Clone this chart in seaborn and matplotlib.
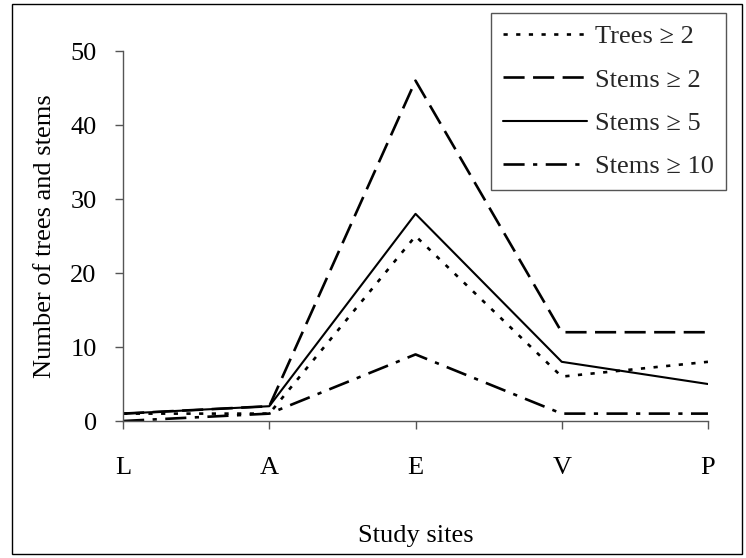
import matplotlib
matplotlib.use("Agg")
import matplotlib.pyplot as plt
from matplotlib.patches import Rectangle
import pandas as pd
import seaborn as sns

# Study sites along the transect
sites = ["L", "A", "E", "V", "P"]

# Counts per site for each size class
trees_ge2 = [1, 1, 25, 6, 8]
stems_ge2 = [1, 2, 46, 12, 12]
stems_ge5 = [1, 2, 28, 8, 5]
stems_ge10 = [0, 1, 9, 1, 1]

series_labels = ["Trees \u2265 2", "Stems \u2265 2", "Stems \u2265 5", "Stems \u2265 10"]
series_values = [trees_ge2, stems_ge2, stems_ge5, stems_ge10]

y_ticks = [0, 10, 20, 30, 40, 50]

sns.set_theme(style="white")
plt.rcParams["font.family"] = ["Liberation Serif", "DejaVu Serif"]

FS = 19

fig = plt.figure(figsize=(7.46, 5.58), dpi=100)
ax = fig.add_axes([0.165, 0.2455, 0.784, 0.663])

line_styles = {
    series_labels[0]: dict(linestyle=(0, (1.6, 3.2)), linewidth=1.9),
    series_labels[1]: dict(linestyle=(0, (8, 3.2)), linewidth=1.9),
    series_labels[2]: dict(linestyle="-", linewidth=1.5),
    series_labels[3]: dict(linestyle=(0, (8, 3.2, 1.6, 3.2)), linewidth=1.9),
}

for label, values in zip(series_labels, series_values):
    df = pd.DataFrame({"site": sites, "count": values})
    sns.lineplot(data=df, x="site", y="count", ax=ax, color="black",
                 label=label, legend=False, **line_styles[label])

ax.set_xlim(0, len(sites) - 1)
ax.set_ylim(0, 50)
ax.set_yticks(y_ticks)
ax.set_xticks(range(len(sites)))
ax.set_xticklabels(sites)

for side in ["top", "right"]:
    ax.spines[side].set_visible(False)
for side in ["left", "bottom"]:
    ax.spines[side].set_color("#555555")
    ax.spines[side].set_linewidth(1.0)

ax.tick_params(axis="both", which="major", direction="out", length=6, width=1.0,
               color="#555555", labelsize=FS, labelcolor="black",
               bottom=True, left=True)
ax.tick_params(axis="x", pad=20)
ax.tick_params(axis="y", pad=13)

ax.set_xlabel("Study sites", fontsize=FS, labelpad=33, color="black")
ax.set_ylabel("Number of trees and stems", fontsize=FS, labelpad=10, color="black")

handles = ax.get_lines()[:4]
leg = ax.legend(handles, series_labels, loc="upper right",
                bbox_to_anchor=(726 / 746, 1 - 13 / 558), bbox_transform=fig.transFigure,
                fontsize=FS, frameon=True, fancybox=False, handlelength=3.2,
                handletextpad=0.3, labelspacing=0.75, borderpad=0.45,
                borderaxespad=0.0, framealpha=1.0)
leg.get_frame().set_edgecolor("#555555")
leg.get_frame().set_linewidth(1.0)

# Border around the whole chart area
fig.patches.append(Rectangle((12 / 746, 4 / 558), 730 / 746, 550 / 558,
                             transform=fig.transFigure, fill=False,
                             edgecolor="black", linewidth=1.0))

fig.savefig("out.png", dpi=100)
